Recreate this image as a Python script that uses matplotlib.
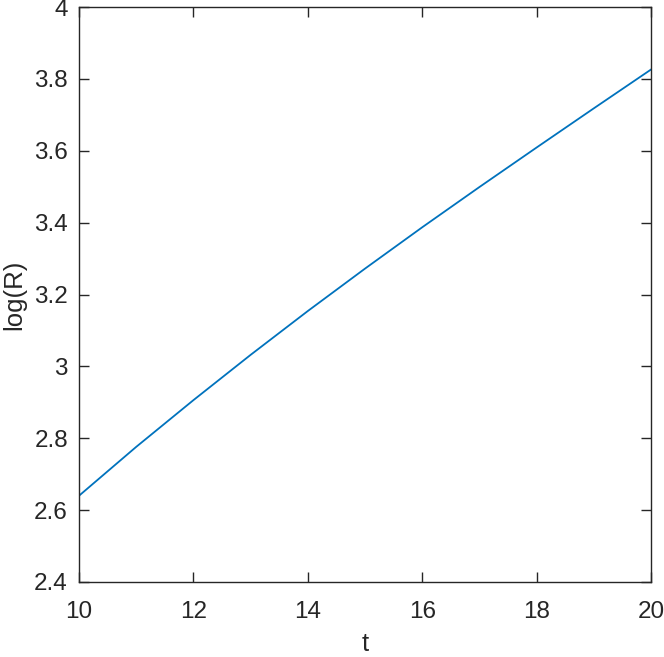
import numpy as np
import matplotlib
matplotlib.use('Agg')
import matplotlib.pyplot as plt

# values
t = [10, 11, 12, 13, 14, 15, 16, 17, 18, 19, 20]
logR = [2.640, 2.776, 2.906, 3.032, 3.154, 3.272, 3.387, 3.499, 3.609, 3.718, 3.826]

xticks = [10, 12, 14, 16, 18, 20]
yticks = [2.4, 2.6, 2.8, 3.0, 3.2, 3.4, 3.6, 3.8, 4.0]
ytick_labels = ['2.4', '2.6', '2.8', '3', '3.2', '3.4', '3.6', '3.8', '4']

plt.rcParams['font.family'] = ['Liberation Sans', 'DejaVu Sans']
dark = '#262626'

fig = plt.figure(figsize=(6.64, 6.57), dpi=100)
ax = fig.add_axes([79/664, 75/657, 572/664, 575/657])
ax.plot(t, logR, color='#0072BD', linewidth=1.3)

ax.set_xlim(10, 20)
ax.set_ylim(2.4, 4)
ax.set_xticks(xticks)
ax.set_xticklabels([str(v) for v in xticks])
ax.set_yticks(yticks)
ax.set_yticklabels(ytick_labels)
ax.tick_params(direction='in', length=7, width=1, colors=dark, labelsize=17.5,
               top=True, right=True)
ax.tick_params(axis='x', pad=14)
ax.tick_params(axis='y', pad=8)
for s in ax.spines.values():
    s.set_color(dark)
    s.set_linewidth(1)

ax.set_xlabel('t', fontsize=18.5, color=dark, labelpad=6)
ax.set_ylabel('log(R)', fontsize=18.5, color=dark, labelpad=6)

fig.savefig('out.png', dpi=100)
